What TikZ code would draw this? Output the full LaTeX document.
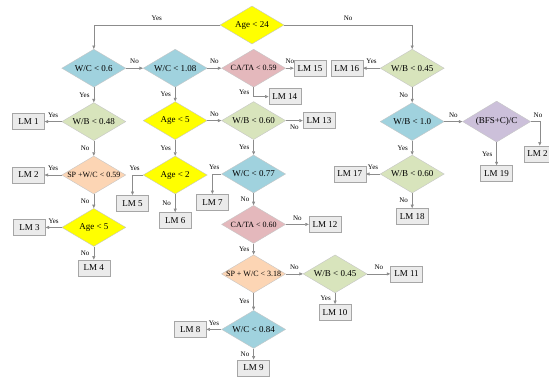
\documentclass[tikz,border=0pt]{standalone}
\usepackage{fontspec}
\setmainfont{Liberation Serif}
\usetikzlibrary{backgrounds}
\usetikzlibrary{arrows.meta}
\usetikzlibrary{positioning}
\usetikzlibrary{shapes.geometric}
\usetikzlibrary{shadows}

\definecolor{qyellow}{RGB}{255,255,0}
\definecolor{qblue}{RGB}{160,210,222}
\definecolor{qgreen}{RGB}{216,228,188}
\definecolor{qpink}{RGB}{228,184,188}
\definecolor{qpeach}{RGB}{252,213,180}
\definecolor{qviolet}{RGB}{204,192,218}
\definecolor{lmgray}{RGB}{235,235,235}

\begin{document}
\begin{tikzpicture}[
    show background rectangle,
    tight background,
    background rectangle/.style={fill=white},
    font=\fontsize{9}{10}\selectfont,
    dia/.style={diamond, draw=gray!45, minimum width=64pt, minimum height=38pt, inner sep=0pt, shape aspect=1.68},
    qy/.style={dia, fill=qyellow},
    qb/.style={dia, fill=qblue},
    qg/.style={dia, fill=qgreen},
    qp/.style={dia, fill=qpink, font=\fontsize{8}{9}\selectfont},
    qo/.style={dia, fill=qpeach, font=\fontsize{8}{9}\selectfont},
    qv/.style={dia, fill=qviolet, minimum width=68pt, minimum height=41pt},
    lm/.style={rectangle, draw=gray!70, fill=lmgray, minimum width=32pt, minimum height=16pt, inner sep=2pt, drop shadow={shadow xshift=0.6pt, shadow yshift=-0.6pt, opacity=0.4}},
    arr/.style={draw=gray!90, line width=0.6pt, -{Triangle[length=3.5pt,width=3pt]}},
    yn/.style={font=\fontsize{7}{8}\selectfont, inner sep=4pt},
 ]
    \useasboundingbox (0,0) rectangle (549pt,-380pt);

    % decisions
    \node[qy] (Q0) at (252pt,-25pt) {Age < 24};
    \node[qb, below=24pt of Q0.west, xshift=-126pt] (Q1) {W/C < 0.6};
    \node[qb, right=17pt of Q1] (Q2) {W/C < 1.08};
    \node[qp, right=14pt of Q2] (Q3) {CA/TA < 0.59};
    \node[qg, below=15pt of Q1] (Q4) {W/B < 0.48};
    \node[qo, below=15pt of Q4] (Q5) {SP +W/C < 0.59};
    \node[qy, below=14pt of Q5] (Q6) {Age < 5};
    \node[qy, below=14pt of Q2] (Q7) {Age < 5};
    \node[qg, right=14pt of Q7] (Q8) {W/B < 0.60};
    \node[qy, below=16pt of Q7] (Q9) {Age < 2};
    \node[qb, below=15pt of Q8] (Q10) {W/C < 0.77};
    \node[qp, below=12pt of Q10] (Q11) {CA/TA < 0.60};
    \node[qo, below=11pt of Q11] (Q12) {SP + W/C < 3.18};
    \node[qg, right=17pt of Q12] (Q13) {W/B < 0.45};
    \node[qb, below=17pt of Q12] (Q14) {W/C < 0.84};
    \node[qg, below=24pt of Q0.east, xshift=128pt] (Q15) {W/B < 0.45};
    \node[qb, below=15pt of Q15] (Q16) {W/B < 1.0};
    \node[qv, right=18pt of Q16] (Q17) {(BFS+C)/C};
    \node[qg, below=14pt of Q16] (Q18) {W/B < 0.60};

    % leaves
    \node[lm, left=17pt of Q4] (L1) {LM 1};
    \node[lm, left=17pt of Q5] (L2) {LM 2};
    \node[lm, left=16pt of Q6] (L3) {LM 3};
    \node[lm, below=13pt of Q6] (L4) {LM 4};
    \node[lm, below=20pt of Q9.west, xshift=-10.5pt] (L5) {LM 5};
    \node[lm, below=18pt of Q9] (L6) {LM 6};
    \node[lm, below=20pt of Q10.west, xshift=-9pt] (L7) {LM 7};
    \node[lm, left=15pt of Q14] (L8) {LM 8};
    \node[lm, below=11pt of Q14] (L9) {LM 9};
    \node[lm, below=11pt of Q13] (L10) {LM 10};
    \node[lm, right=23pt of Q13] (L11) {LM 11};
    \node[lm, right=23pt of Q11] (L12) {LM 12};
    \node[lm, right=17pt of Q8] (L13) {LM 13};
    \node[lm, below right=1pt and 15pt of Q3.south] (L14) {LM 14};
    \node[lm, right=8pt of Q3] (L15) {LM 15};
    \node[lm, left=17pt of Q15] (L16) {LM 16};
    \node[lm, left=14pt of Q18] (L17) {LM 17};
    \node[lm, below=15pt of Q18] (L18) {LM 18};
    \node[lm, below=23pt of Q17] (L19) {LM 19};
    \node[lm, below=24pt of Q17.east, xshift=9pt] (L20) {LM 2\phantom{0}};

    % connectors
    \draw[arr] (Q0.west) -| node[yn, above, pos=0.25] {Yes} (Q1.north);
    \draw[arr] (Q0.east) -| node[yn, above, pos=0.25] {No} (Q15.north);
    \draw[arr] (Q1) -- node[yn, above] {No} (Q2);
    \draw[arr] (Q2) -- node[yn, above] {No} (Q3);
    \draw[arr] (Q3) -- node[yn, above] {No} (L15);
    \draw[arr] (Q3.south) |- node[yn, left, pos=0.25] {Yes} (L14.west);
    \draw[arr] (Q1) -- node[yn, left] {Yes} (Q4);
    \draw[arr] (Q4) -- node[yn, above] {Yes} (L1);
    \draw[arr] (Q4) -- node[yn, left] {No} (Q5);
    \draw[arr] (Q5) -- node[yn, above] {Yes} (L2);
    \draw[arr] (Q5) -- node[yn, left] {No} (Q6);
    \draw[arr] (Q6) -- node[yn, above] {Yes} (L3);
    \draw[arr] (Q6) -- node[yn, left] {No} (L4);
    \draw[arr] (Q2) -- node[yn, left] {Yes} (Q7);
    \draw[arr] (Q7) -- node[yn, above] {No} (Q8);
    \draw[arr] (Q8) -- node[yn, below] {No} (L13);
    \draw[arr] (Q7) -- node[yn, left] {Yes} (Q9);
    \draw[arr] (Q9.west) -| node[yn, above, pos=0.4] {Yes} (L5.north);
    \draw[arr] (Q9) -- node[yn, left] {No} (L6);
    \draw[arr] (Q8) -- node[yn, left] {Yes} (Q10);
    \draw[arr] (Q10.west) -| node[yn, above, pos=0.4] {Yes} (L7.north);
    \draw[arr] (Q10) -- node[yn, left] {No} (Q11);
    \draw[arr] (Q11) -- node[yn, above] {No} (L12);
    \draw[arr] (Q11) -- node[yn, left] {Yes} (Q12);
    \draw[arr] (Q12) -- node[yn, above] {No} (Q13);
    \draw[arr] (Q13) -- node[yn, above] {No} (L11);
    \draw[arr] (Q13) -- node[yn, left] {Yes} (L10);
    \draw[arr] (Q12) -- node[yn, left] {Yes} (Q14);
    \draw[arr] (Q14) -- node[yn, above] {Yes} (L8);
    \draw[arr] (Q14) -- node[yn, left] {No} (L9);
    \draw[arr] (Q15) -- node[yn, above] {Yes} (L16);
    \draw[arr] (Q15) -- node[yn, left] {No} (Q16);
    \draw[arr] (Q16) -- node[yn, above] {No} (Q17);
    \draw[arr] (Q17.east) -| node[yn, above, pos=0.4] {No} (L20.north);
    \draw[arr] (Q17) -- node[yn, left] {Yes} (L19);
    \draw[arr] (Q16) -- node[yn, left] {Yes} (Q18);
    \draw[arr] (Q18) -- node[yn, above] {Yes} (L17);
    \draw[arr] (Q18) -- node[yn, left] {No} (L18);

\end{tikzpicture}
\end{document}
